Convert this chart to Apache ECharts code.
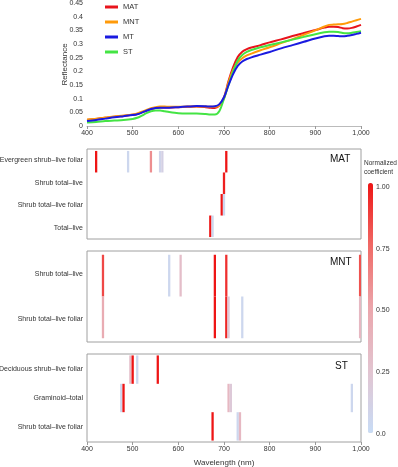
<!DOCTYPE html>
<html>
<head>
<meta charset="utf-8">
<script src="https://cdn.jsdelivr.net/npm/echarts@6/dist/echarts.min.js"></script>
<style>
  html, body { margin: 0; padding: 0; background: #fff; }
  #main { width: 398px; height: 467px; }
</style>
</head>
<body>
<div id="main"></div>
<script>
var FONT = "Liberation Sans, Arial, sans-serif";

// reflectance spectra (top panel)
var wavelengths = [400, 420, 440, 460, 480, 500, 510, 520, 530, 540, 550, 560, 570, 580, 600, 620, 640, 660, 670, 680,
  690, 700, 710, 720, 730, 740, 750, 760, 780, 800, 825, 850, 875, 900, 920, 930, 940, 950, 960, 970, 980, 990, 1000];
var matRefl = [0.022, 0.026, 0.030, 0.034, 0.037, 0.041, 0.044, 0.050, 0.056, 0.062, 0.066, 0.068, 0.068, 0.068, 0.069, 0.070, 0.071, 0.069, 0.067, 0.066,
  0.076, 0.105, 0.165, 0.215, 0.252, 0.272, 0.281, 0.287, 0.296, 0.306, 0.317, 0.329, 0.340, 0.351, 0.360, 0.363, 0.363, 0.362, 0.358, 0.357, 0.359, 0.364, 0.370];
var mntRefl = [0.024, 0.027, 0.031, 0.035, 0.038, 0.042, 0.046, 0.052, 0.059, 0.065, 0.069, 0.071, 0.071, 0.070, 0.070, 0.071, 0.071, 0.071, 0.070, 0.070,
  0.076, 0.100, 0.160, 0.205, 0.232, 0.248, 0.258, 0.265, 0.277, 0.288, 0.303, 0.318, 0.334, 0.350, 0.364, 0.370, 0.371, 0.372, 0.373, 0.377, 0.382, 0.387, 0.392];
var mtRefl = [0.018, 0.022, 0.027, 0.032, 0.036, 0.040, 0.043, 0.049, 0.056, 0.062, 0.066, 0.067, 0.067, 0.067, 0.069, 0.071, 0.073, 0.072, 0.071, 0.072,
  0.080, 0.105, 0.150, 0.190, 0.220, 0.236, 0.245, 0.251, 0.261, 0.271, 0.284, 0.296, 0.308, 0.320, 0.328, 0.330, 0.330, 0.329, 0.328, 0.330, 0.333, 0.337, 0.341];
var stRefl = [0.013, 0.015, 0.018, 0.020, 0.022, 0.026, 0.030, 0.038, 0.047, 0.054, 0.057, 0.057, 0.054, 0.051, 0.047, 0.046, 0.046, 0.044, 0.042, 0.042,
  0.055, 0.100, 0.150, 0.200, 0.240, 0.260, 0.271, 0.278, 0.288, 0.296, 0.306, 0.316, 0.326, 0.336, 0.343, 0.345, 0.345, 0.344, 0.340, 0.339, 0.341, 0.344, 0.347];

// selected bands: [wavelength, row, normalized coefficient]
var matRows = ["Evergreen shrub–live foliar", "Shrub total–live", "Shrub total–live foliar", "Total–live"];
var matBands = [
  [420, 0, 1.0], [490, 0, 0.05], [540, 0, 0.6], [560, 0, 0.08], [565, 0, 0.12], [705, 0, 1.0],
  [700, 1, 0.97],
  [695, 2, 1.0], [700, 2, 0.05],
  [670, 3, 1.0], [675, 3, 0.05]
];
var mntRows = ["Shrub total–live", "Shrub total–live foliar"];
var mntBands = [
  [435, 0, 0.85], [580, 0, 0.05], [605, 0, 0.3], [680, 0, 1.0], [705, 0, 0.92], [998, 0, 0.82],
  [435, 1, 0.45], [680, 1, 1.0], [705, 1, 0.95], [710, 1, 0.2], [740, 1, 0.05], [998, 1, 0.35]
];
var stRows = ["Deciduous shrub–live foliar", "Graminoid–total", "Shrub total–live foliar"];
var stBands = [
  [495, 0, 0.3], [500, 0, 1.0], [510, 0, 0.05], [555, 0, 1.0],
  [475, 1, 0.05], [480, 1, 1.0], [710, 1, 0.35], [715, 1, 0.2], [980, 1, 0.05],
  [675, 2, 1.0], [730, 2, 0.05], [735, 2, 0.35]
];
var colorbarTicks = ["0.0", "0.25", "0.50", "0.75", "1.00"];

var chart = echarts.init(document.getElementById("main"));

function bandItem(params, api) {
  var wl = api.value(0);
  var row = api.value(1);
  var p0 = api.coord([wl - 2.5, row]);
  var p1 = api.coord([wl + 2.5, row + 1]);
  var rect = echarts.graphic.clipRectByRect({
    x: Math.min(p0[0], p1[0]),
    y: Math.min(p0[1], p1[1]),
    width: Math.abs(p1[0] - p0[0]),
    height: Math.abs(p1[1] - p0[1])
  }, params.coordSys);
  if (!rect) return;
  return { type: "rect", shape: rect, style: { fill: api.visual("color") } };
}

function lineSeries(name, data, color, z) {
  return {
    name: name,
    type: "line",
    xAxisIndex: 0,
    yAxisIndex: 0,
    data: wavelengths.map(function (w, i) { return [w, data[i]]; }),
    smooth: 0.3,
    showSymbol: false,
    z: z,
    lineStyle: { color: color, width: 2 },
    itemStyle: { color: color }
  };
}

function panelX(idx, showLabels) {
  return {
    type: "value", gridIndex: idx, min: 400, max: 1000, interval: 100,
    axisLine: { show: false, onZero: false },
    axisTick: { show: showLabels, length: 3, lineStyle: { color: "#999" } },
    axisLabel: { show: showLabels, fontSize: 7, color: "#333", margin: 4, fontFamily: FONT },
    splitLine: { show: false },
    name: showLabels ? "Wavelength (nm)" : "",
    nameLocation: "middle",
    nameGap: 17,
    nameTextStyle: { fontSize: 8, color: "#333", fontFamily: FONT }
  };
}

function panelYValue(idx, n, pad) {
  return { type: "value", gridIndex: idx, min: -pad, max: n + pad, inverse: true, show: false };
}

function panelYCat(idx, rows) {
  return {
    type: "category", gridIndex: idx, data: rows, inverse: true, position: "left",
    axisLine: { show: false, onZero: false }, axisTick: { show: false }, splitLine: { show: false },
    axisLabel: { fontSize: 7, color: "#333", margin: 4, fontFamily: FONT }
  };
}

function panelTitle(text, left, top) {
  return { text: text, left: left, top: top, padding: 0,
    textStyle: { fontSize: 10, fontWeight: "normal", color: "#111" } };
}

var option = {
  backgroundColor: "#fff",
  animation: false,
  textStyle: { fontFamily: FONT },
  title: [
    panelTitle("MAT", 330, 154),
    panelTitle("MNT", 330, 257),
    panelTitle("ST", 335, 361),
    { text: "Normalized\ncoefficient", left: 364, top: 159, padding: 0,
      textStyle: { fontSize: 6.5, fontWeight: "normal", color: "#333", lineHeight: 9 } }
  ],
  legend: {
    data: ["MAT", "MNT", "MT", "ST"],
    orient: "vertical",
    left: 105,
    top: 2,
    padding: 0,
    icon: "rect",
    itemWidth: 13,
    itemHeight: 3,
    itemGap: 5,
    textStyle: { fontSize: 7.5, color: "#333", lineHeight: 10 }
  },
  grid: [
    { left: 87, top: 3, width: 274, height: 123, outerBoundsMode: "none" },
    { left: 87, top: 149, width: 274, height: 90, show: true, borderColor: "#a0a0a0", borderWidth: 1, outerBoundsMode: "none" },
    { left: 87, top: 251, width: 274, height: 91, show: true, borderColor: "#a0a0a0", borderWidth: 1, outerBoundsMode: "none" },
    { left: 87, top: 354, width: 274, height: 88, show: true, borderColor: "#a0a0a0", borderWidth: 1, outerBoundsMode: "none" },
    { left: 368, top: 187, width: 5, height: 247, outerBoundsMode: "none" }
  ],
  xAxis: [
    {
      type: "value", gridIndex: 0, min: 400, max: 1000, interval: 100,
      axisLine: { show: true, onZero: false, lineStyle: { color: "#bbb" } },
      axisTick: { show: true, length: 3, lineStyle: { color: "#999" } },
      axisLabel: { fontSize: 7, color: "#333", margin: 4 },
      splitLine: { show: false }
    },
    panelX(1, false),
    panelX(2, false),
    panelX(3, true),
    { type: "value", gridIndex: 4, show: false, min: 0, max: 1 }
  ],
  yAxis: [
    {
      type: "value", gridIndex: 0, min: 0, max: 0.45, interval: 0.05,
      name: "Reflectance", nameLocation: "middle", nameGap: 18, nameMoveOverlap: false,
      nameTextStyle: { fontSize: 8, color: "#333" },
      axisLine: { show: false },
      axisTick: { show: false },
      axisLabel: { fontSize: 7, color: "#333", margin: 4 },
      splitLine: { show: false }
    },
    panelYValue(1, matRows.length, 0.09),
    panelYCat(1, matRows),
    panelYValue(2, mntRows.length, 0.09),
    panelYCat(2, mntRows),
    panelYValue(3, stRows.length, 0.05),
    panelYCat(3, stRows),
    {
      type: "value", gridIndex: 4, min: 0, max: 1, interval: 0.25, position: "right",
      axisLine: { show: false }, axisTick: { show: false }, splitLine: { show: false },
      axisLabel: {
        fontSize: 7, color: "#333", margin: 3,
        formatter: function (v) { return colorbarTicks[Math.round(v * 4)]; }
      }
    }
  ],
  visualMap: {
    type: "continuous",
    min: 0,
    max: 1,
    dimension: 2,
    seriesIndex: [4, 5, 6],
    calculable: false,
    hoverLink: false,
    left: 368,
    top: 183,
    padding: 0,
    itemWidth: 5,
    itemHeight: 250,
    text: null,
    showLabel: false,
    inRange: { color: ["#c8dcf6", "#e2c4d0", "#eba6ac", "#f06a66", "#ee1515"] }
  },
  series: [
    lineSeries("MAT", matRefl, "#e8141c", 2),
    lineSeries("MNT", mntRefl, "#ff9a0a", 3),
    lineSeries("ST", stRefl, "#44e444", 4),
    lineSeries("MT", mtRefl, "#1a1ae0", 5),
    { type: "custom", xAxisIndex: 1, yAxisIndex: 1, renderItem: bandItem, data: matBands, encode: { x: 0, y: 1 } },
    { type: "custom", xAxisIndex: 2, yAxisIndex: 3, renderItem: bandItem, data: mntBands, encode: { x: 0, y: 1 } },
    { type: "custom", xAxisIndex: 3, yAxisIndex: 5, renderItem: bandItem, data: stBands, encode: { x: 0, y: 1 } }
  ]
};
chart.setOption(option);
</script>
</body>
</html>
